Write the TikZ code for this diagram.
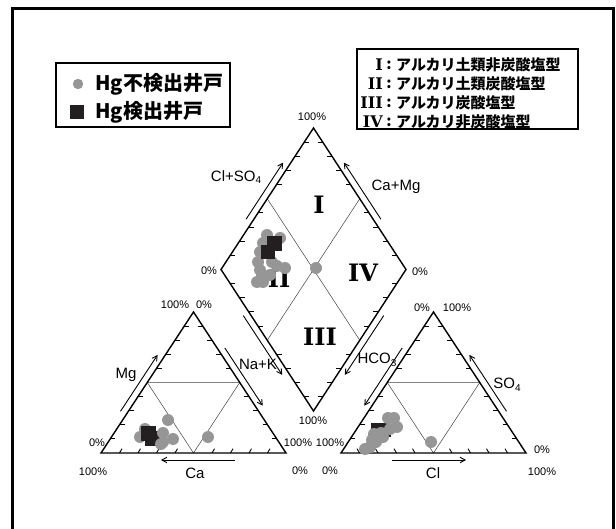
\documentclass[tikz,border=0pt]{standalone}
\usepackage{fontspec}
\setmainfont{Liberation Sans}
\newfontfamily\jp{Noto Sans CJK JP}
\newfontfamily\romf{DejaVu Serif}
\usetikzlibrary{arrows.meta,calc}
\definecolor{dotgray}{RGB}{150,150,150}
\definecolor{sqblack}{RGB}{35,31,32}
\newcommand\subsc[1]{\raisebox{-0.35ex}{\fontsize{10}{10}\selectfont #1}}
\begin{document}
\begin{tikzpicture}[x=1pt,y=-1pt,
  edge/.style={line width=1.4pt,line join=miter},
  innerline/.style={line width=0.5pt,draw=black!75},
  tickmark/.style={line width=0.9pt},
  axarrow/.style={line width=0.9pt,-{Straight Barb[length=5pt,width=5.5pt]}},
  pct/.style={font=\fontsize{11}{11}\selectfont,inner sep=0pt},
  axlab/.style={font=\fontsize{15}{15}\selectfont,inner sep=0pt},
  romlab/.style={font=\romf\bfseries\fontsize{24}{24}\selectfont,inner sep=0pt},
  legjp/.style={font=\jp\bfseries\fontsize{15}{15}\selectfont,inner sep=0pt,anchor=west},
  legrom/.style={font=\romf\bfseries\fontsize{16}{16}\selectfont,inner sep=0pt,anchor=east},
  legcol/.style={font=\jp\bfseries\fontsize{15}{15}\selectfont,inner sep=0pt},
  bigjp/.style={font=\jp\bfseries\fontsize{20}{20}\selectfont,inner sep=0pt,anchor=west},
  gdot/.style={fill=dotgray},
  bsq/.style={fill=sqblack},
  framebox/.style={line width=3pt},
  legbox/.style={line width=1.4pt}]
\useasboundingbox (0,0) rectangle (616,529);
% outer frame
\draw[framebox] (12,9) rectangle (613,545);
% legend boxes
\draw[legbox] (56,63) rectangle (230,127);
\draw[legbox] (357,49) rectangle (578,129);
% legend left
\fill[gdot] (78,84) circle (5.2);
\fill[bsq] (77,112) ++(-7,-7) rectangle ++(14,14);
\node[bigjp] (lg1) at (95,84) {Hg不検出井戸};
\node[bigjp] (lg2) at (95,112) {Hg検出井戸};
% legend right
\node[legrom] (r1) at (383,65) {I};
\node[legcol] (c1) at (389,65) {:};
\node[legjp] (t1) at (396,65) {アルカリ土類非炭酸塩型};
\node[legrom] (r2) at (383,84) {II};
\node[legcol] (c2) at (389,84) {:};
\node[legjp] (t2) at (396,84) {アルカリ土類炭酸塩型};
\node[legrom] (r3) at (383,103) {III};
\node[legcol] (c3) at (389,103) {:};
\node[legjp] (t3) at (396,103) {アルカリ炭酸塩型};
\node[legrom] (r4) at (383,122) {IV};
\node[legcol] (c4) at (389,122) {:};
\node[legjp] (t4) at (396,122) {アルカリ非炭酸塩型};
% vertices
\coordinate (dT) at (313.5,128);
\coordinate (dL) at (221,269.5);
\coordinate (dR) at (406,269.5);
\coordinate (dB) at (313.5,411);
\coordinate (lB) at (101,453);
\coordinate (lR) at (286,453);
\coordinate (lT) at (193.5,312);
\coordinate (rB) at (341,453);
\coordinate (rR) at (526,453);
\coordinate (rT) at (433.5,312);
% inner lines
\draw[innerline] ($(dL)!0.5!(dT)$) -- ($(dR)!0.5!(dB)$);
\draw[innerline] ($(dR)!0.5!(dT)$) -- ($(dL)!0.5!(dB)$);
\draw[innerline] ($(lB)!0.5!(lT)$) -- ($(lR)!0.5!(lT)$) -- ($(lB)!0.5!(lR)$) -- cycle;
\draw[innerline] ($(rB)!0.5!(rT)$) -- ($(rR)!0.5!(rT)$) -- ($(rB)!0.5!(rR)$) -- cycle;
% outlines
\draw[edge] (dT) -- (dR) -- (dB) -- (dL) -- cycle;
\draw[edge] (lB) -- (lR) -- (lT) -- cycle;
\draw[edge] (rB) -- (rR) -- (rT) -- cycle;
% ticks
\foreach \t in {0.1,0.2,0.3,0.4,0.6,0.7,0.8,0.9}{
  \draw[tickmark] ($(dL)!\t!(dT)$) -- ++(5,0);
  \draw[tickmark] ($(dR)!\t!(dT)$) -- ++(-5,0);
  \draw[tickmark] ($(dL)!\t!(dB)$) -- ++(5,0);
  \draw[tickmark] ($(dR)!\t!(dB)$) -- ++(-5,0);
  \draw[tickmark] ($(lB)!\t!(lT)$) -- ++(5,0);
  \draw[tickmark] ($(lR)!\t!(lT)$) -- ++(-5,0);
  \draw[tickmark] ($(lB)!\t!(lR)$) -- ++(2.5,-4.3);
  \draw[tickmark] ($(rB)!\t!(rT)$) -- ++(5,0);
  \draw[tickmark] ($(rR)!\t!(rT)$) -- ++(-5,0);
  \draw[tickmark] ($(rB)!\t!(rR)$) -- ++(-2.5,-4.3);
}
% roman numerals in diamond
\node[romlab] (nI) at (319,205) {I};
\node[romlab] (nII) at (279,279) {II};
\node[romlab] (nIII) at (320,337) {III};
\node[romlab] (nIV) at (363,273) {IV};
% data: diamond
\foreach \p in {(257,282),(263,282),(260,270),(258,262),(260,252),(263,243),(267,235),(280,238),(277,266),(285,268),(270,275),(262,275),(272,262)}
  \fill[gdot] \p circle (6);
\fill[bsq] (274,244) ++(-7.5,-7.5) rectangle ++(15,15);
\fill[bsq] (268,252) ++(-7,-7) rectangle ++(14,14);
\fill[gdot] (316,268) circle (6);
% data: left triangle
\foreach \p in {(168,420),(208,437),(140,437),(145,429),(173,439),(163,442)}
  \fill[gdot] \p circle (6);
\fill[bsq] (148,433) ++(-7.5,-7.5) rectangle ++(15,15);
\fill[bsq] (152,438) ++(-7.5,-7.5) rectangle ++(15,15);
\fill[gdot] (163,433) circle (6);
\fill[gdot] (161,444) circle (6);
% data: right triangle
\fill[bsq] (378,430) ++(-7,-7) rectangle ++(14,14);
\fill[bsq] (384,430) ++(-7,-7) rectangle ++(14,14);
\foreach \p in {(388,418),(394,418),(397,427),(390,429),(381,433),(374,434),(372,440),(383,437),(370,447),(365,449),(376,442),(431,442)}
  \fill[gdot] \p circle (6);
% percent labels
\node[pct] (p1) at (312,117) {100\%};
\node[pct] (p2) at (209,271) {0\%};
\node[pct] (p3) at (420,272) {0\%};
\node[pct] (p4) at (313,421) {100\%};
\node[pct] (p5) at (175,305) {100\%};
\node[pct] (p6) at (204,305) {0\%};
\node[pct] (p7) at (97,443) {0\%};
\node[pct] (p8) at (298,443) {100\%};
\node[pct] (p9) at (93,472) {100\%};
\node[pct] (p10) at (300,471) {0\%};
\node[pct] (p11) at (422,308) {0\%};
\node[pct] (p12) at (457,308) {100\%};
\node[pct] (p13) at (330,443) {100\%};
\node[pct] (p14) at (542,450) {0\%};
\node[pct] (p15) at (542,472) {100\%};
\node[pct] (p16) at (330,471) {0\%};
% axis labels
\node[axlab] (aCS) at (236,177) {Cl+SO\subsc{4}};
\node[axlab] (aCM) at (396,187) {Ca+Mg};
\node[axlab] (aMg) at (126,375) {Mg};
\node[axlab] (aNK) at (258,364) {Na+K};
\node[axlab] (aHC) at (377,360) {HCO\subsc{3}};
\node[axlab] (aSO) at (507,385) {SO\subsc{4}};
\node[axlab] (aCa) at (195,473) {Ca};
\node[axlab] (aCl) at (433,473) {Cl};
% axis arrows
\coordinate (a1s) at (246.1,219.2); \coordinate (a1e) at (283.1,162.6);
\coordinate (a2s) at (380.9,219.2); \coordinate (a2e) at (343.9,162.6);
\coordinate (a3s) at (243.3,315.6); \coordinate (a3e) at (282.2,374.9);
\coordinate (a4s) at (383.7,315.6); \coordinate (a4e) at (344.8,374.9);
\coordinate (a5s) at (120.5,411.3); \coordinate (a5e) at (157.6,354.9);
\coordinate (a6s) at (224.8,347.9); \coordinate (a6e) at (262.7,405.7);
\coordinate (a7s) at (402.2,347.9); \coordinate (a7e) at (364.3,405.7);
\coordinate (a8s) at (506.5,411.3); \coordinate (a8e) at (469.4,354.9);
\coordinate (a9s) at (235,460); \coordinate (a9e) at (161,460);
\coordinate (a10s) at (392,460); \coordinate (a10e) at (466,460);
\foreach \i in {1,...,10} \draw[axarrow] (a\i s) -- (a\i e);
\end{tikzpicture}
\end{document}
